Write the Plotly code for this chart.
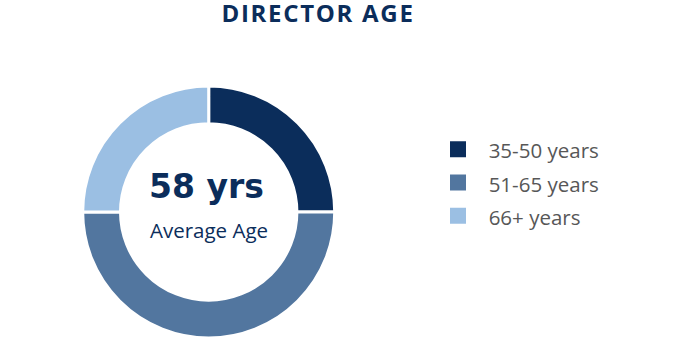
import plotly.graph_objects as go

# Data
labels = ["35-50 years", "51-65 years", "66+ years"]
values = [25, 50, 25]
colors = ["#0b2d5b", "#52769f", "#9bbfe3"]
title_text = "DIRECTOR AGE"
center_value = "58 yrs"
center_label = "Average Age"

W, H = 690, 360
navy = "#0b2d5b"

fig = go.Figure()
fig.add_trace(go.Pie(
    labels=labels, values=values,
    marker=dict(colors=colors, line=dict(color="white", width=3)),
    hole=0.70, sort=False, direction="clockwise", rotation=0,
    textinfo="none", hoverinfo="label+percent", showlegend=False,
    domain=dict(x=[82.7 / W, 334.7 / W], y=[1 - 338 / H, 1 - 86 / H]),
))

# legend entries (same labels / colours)
for lab, col in zip(labels, colors):
    fig.add_trace(go.Scatter(
        x=[None], y=[None], mode="markers",
        name="<span style='font-size:20.5px'>  " + lab + "</span>",
        marker=dict(symbol="square", size=16, color=col, line=dict(width=0)),
        showlegend=True, hoverinfo="skip",
    ))

fig.update_layout(
    width=W, height=H,
    margin=dict(l=0, r=0, t=0, b=0),
    paper_bgcolor="white", plot_bgcolor="white",
    xaxis=dict(visible=False, domain=[0.99, 1.0]),
    yaxis=dict(visible=False, domain=[0.99, 1.0]),
    title=dict(text="<b><span style='letter-spacing:1.7px'>" + title_text + "</span></b>",
               x=318 / W, xanchor="center",
               y=1 - 14 / H, yanchor="middle", yref="container", xref="container",
               font=dict(family="Open Sans", size=24, color=navy)),
    legend=dict(x=438 / W, xanchor="left", y=1 - 127.5 / H, yanchor="top",
                font=dict(family="Open Sans", size=23.3, color="#575757"),
                bgcolor="rgba(0,0,0,0)", borderwidth=0, tracegroupgap=0),
    annotations=[
        dict(text="<b>" + center_value + "</b>", x=206 / W, y=1 - 186 / H, xref="paper", yref="paper",
             showarrow=False, xanchor="center", yanchor="middle",
             font=dict(family="DejaVu Sans", size=33, color=navy)),
        dict(text=center_label, x=209 / W, y=1 - 230 / H, xref="paper", yref="paper",
             showarrow=False, xanchor="center", yanchor="middle",
             font=dict(family="Open Sans", size=20.5, color=navy)),
    ],
)

fig.write_html("out.html")
